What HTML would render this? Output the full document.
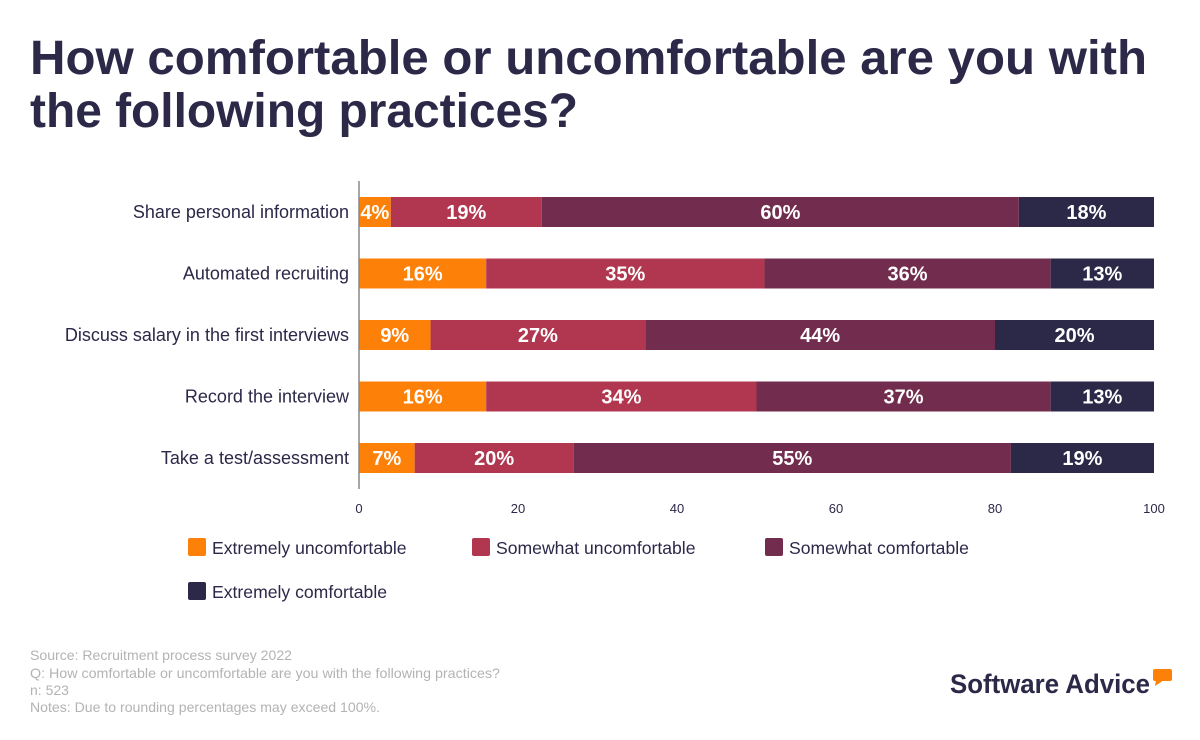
<!DOCTYPE html>
<html><head><meta charset="utf-8"><style>
body{margin:0;background:#fff;width:1200px;height:740px;overflow:hidden;font-family:"Liberation Sans",sans-serif}
</style></head><body>
<svg id="chart" width="1200" height="740" xmlns="http://www.w3.org/2000/svg" style="position:absolute;left:0;top:0">
<text x="30" y="74" font-size="48" font-weight="bold" fill="#2b2848" textLength="1117" lengthAdjust="spacingAndGlyphs">How comfortable or uncomfortable are you with</text>
<text x="30" y="127" font-size="48" font-weight="bold" fill="#2b2848" textLength="548" lengthAdjust="spacingAndGlyphs">the following practices?</text>
<g id="bars"></g>
<line x1="359" y1="181" x2="359" y2="489" stroke="#888" stroke-width="1.5"/>
<g id="xticks"></g>
<g id="legend"></g>
<g font-size="14" fill="#b3b3b3">
<text x="30" y="660" textLength="262" lengthAdjust="spacingAndGlyphs">Source: Recruitment process survey 2022</text>
<text x="30" y="678" textLength="470" lengthAdjust="spacingAndGlyphs">Q: How comfortable or uncomfortable are you with the following practices?</text>
<text x="30" y="695">n: 523</text>
<text x="30" y="712" textLength="350" lengthAdjust="spacingAndGlyphs">Notes: Due to rounding percentages may exceed 100%.</text>
</g>
<g>
<text x="950" y="693" font-size="27" font-weight="bold" fill="#2b2848" textLength="200" lengthAdjust="spacingAndGlyphs">Software Advice</text>
<rect x="1153" y="669" width="19" height="12" rx="2" fill="#fd8008"/>
<polygon points="1156,680 1164,680 1155,686" fill="#fd8008"/>
</g>
</svg>
<script>
const categories=["Share personal information","Automated recruiting","Discuss salary in the first interviews","Record the interview","Take a test/assessment"];
const seriesNames=["Extremely uncomfortable","Somewhat uncomfortable","Somewhat comfortable","Extremely comfortable"];
const extremelyUncomfortable=[4,16,9,16,7];
const somewhatUncomfortable=[19,35,27,34,20];
const somewhatComfortable=[60,36,44,37,55];
const extremelyComfortable=[18,13,20,13,19];
const xTicks=[0,20,40,60,80,100];
const colors=["#fd8008","#b0374f","#722d4e","#2b2848"];
const series=[extremelyUncomfortable,somewhatUncomfortable,somewhatComfortable,extremelyComfortable];
const NS="http://www.w3.org/2000/svg";
const x=v=>359+Math.min(v,100)*7.95;
const yRow=i=>197+i*61.5;
const bh=30;
function mk(t,a,p){const e=document.createElementNS(NS,t);for(const k in a)e.setAttribute(k,a[k]);p.appendChild(e);return e;}
const bars=document.getElementById('bars');
categories.forEach((c,i)=>{
  const lab=mk('text',{x:349,y:yRow(i)+21,'text-anchor':'end','font-size':18,fill:'#2b2848'},bars);
  lab.textContent=c;
  
  
  let cum=0;
  series.forEach((s,j)=>{
    const v=s[i];const x0=x(cum),x1=x(cum+v);cum+=v;
    const r=mk('rect',{x:x0,y:yRow(i),width:Math.max(0,x1-x0),height:bh,fill:colors[j]},bars);
    
    
    const t=mk('text',{x:(x0+x1)/2,y:yRow(i)+22,'text-anchor':'middle','font-size':20,'font-weight':'bold',fill:'#fff'},bars);
    t.textContent=v+'%';
    
    
  });
});
const xt=document.getElementById('xticks');
xTicks.forEach(v=>{
  const t=mk('text',{x:x(v),y:513,'text-anchor':'middle','font-size':13,fill:'#2b2848'},xt);
  t.textContent=v;
  
  
});
const lg=document.getElementById('legend');
const lpos=[[188,538],[472,538],[765,538],[188,582]];
seriesNames.forEach((n,j)=>{
  const g=mk('g',{},lg);
  
  
  mk('rect',{x:lpos[j][0],y:lpos[j][1],width:18,height:18,rx:2,fill:colors[j]},g);
  const t=mk('text',{x:lpos[j][0]+24,y:lpos[j][1]+16,'font-size':17.6,fill:'#2b2848'},g);
  t.textContent=n;
});
</script>
</body></html>
